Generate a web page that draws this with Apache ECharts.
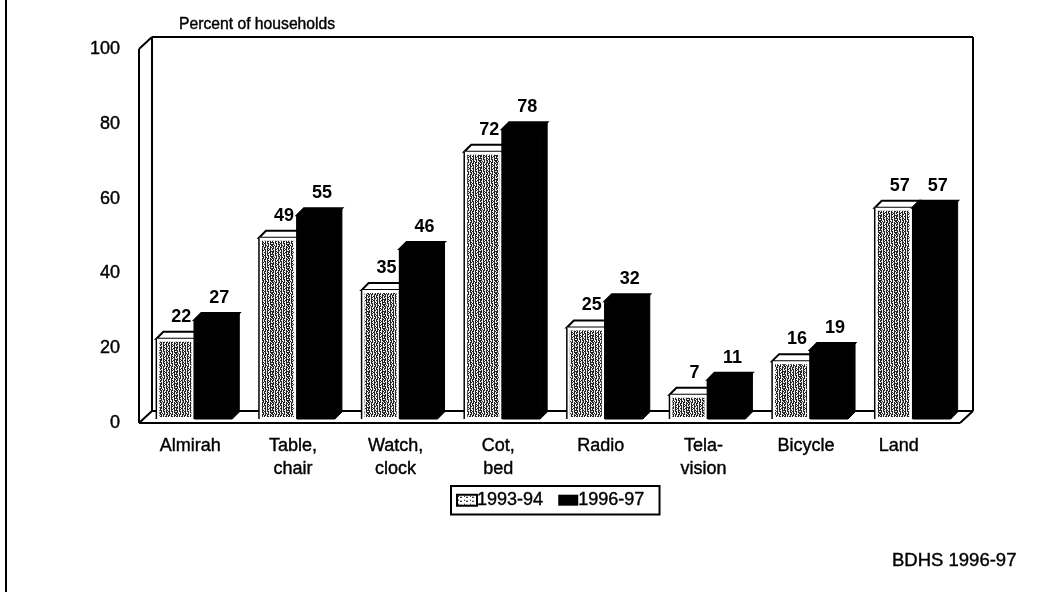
<!DOCTYPE html>
<html>
<head>
<meta charset="utf-8">
<title>Household possessions</title>
<style>
  html, body { margin: 0; padding: 0; background: #fff; }
  #chart { width: 1047px; height: 592px; }
</style>
<script src="https://cdn.jsdelivr.net/npm/echarts@6/dist/echarts.min.js"></script>
</head>
<body>
<div id="chart"></div>
<script>
const categories = ['Almirah', 'Table,\nchair', 'Watch,\nclock', 'Cot,\nbed', 'Radio', 'Tela-\nvision', 'Bicycle', 'Land']
const values9394 = [22, 49, 35, 72, 25, 7, 16, 57]
const values9697 = [27, 55, 46, 78, 32, 11, 19, 57]
const seriesNames = ['1993-94', '1996-97']
const yTicks = {min: 0, max: 100, interval: 20}

const font = '"Liberation Sans", Arial, sans-serif'
// the scan makes all the text a bit heavier
const heavy = {textBorderColor: '#000', textBorderWidth: 0.4}

// scanned halftone look, one small tile repeated
const makeTile = function (rows, darkColor, lightColor) {
  const tile = document.createElement('canvas')
  tile.width = rows[0].length
  tile.height = rows.length
  const ctx = tile.getContext('2d')
  rows.forEach((row, y) => {
    row.split('').forEach((c, x) => {
      ctx.fillStyle = c == '#' ? darkColor : lightColor
      ctx.fillRect(x, y, 1, 1)
    })
  })
  return {image: tile, repeat: 'repeat'}
}
const hatch = makeTile([
  '##.#.##.##.#.##.',
  '#..##.#..#.##.#.',
  '##.#..##.#.#..##',
  '.#.##.#.##.##.#.',
  '##..#.##.#..#.##',
  '#.#.#..#.##.#..#',
  '##.##.##.#.##.#.',
  '.#.#..#.##.#..##',
  '##.#.##.#..##.#.',
  '#..##.#.##.#.##.',
  '.#.#..##.#.##.#.',
  '##.##.#..#.#..##',
], '#222', '#eee')
const legendHatch = makeTile([
  '......',
  '.#....',
  '...##.',
  '......',
], '#000', '#fff')

// the little 3d box the plot sits in
const renderFrame = function (params) {
  const {x, y, width, height} = params.coordSys
  const dx = 13, dy = 12
  const lines = [
    [x, y, x, y + height],
    [x + dx, y - dy, x + dx, y + height - dy],
    [x, y, x + dx, y - dy],
    [x + dx, y - dy, x + width + dx, y - dy],
    [x + width + dx, y - dy, x + width + dx, y + height - dy],
    [x, y + height, x + width, y + height],
    [x + dx, y + height - dy, x + width + dx, y + height - dy],
    [x, y + height, x + dx, y + height - dy],
    [x + width, y + height, x + width + dx, y + height - dy],
  ]
  return {
    type: 'group',
    children: lines.map(([x1, y1, x2, y2]) => ({
      type: 'line',
      shape: {x1, y1, x2, y2},
      style: {stroke: '#000', lineWidth: 2},
    })),
  }
}

const makeBarRenderer = function (side, fill) {
  return function (params, api) {
    const idx = api.value(0)
    const val = api.value(1)
    const band = api.size([1, 0])[0]
    const w = band * 0.37
    const depth = 7
    const top = api.coord([idx, val])
    const base = api.coord([idx, 0])
    const x0 = top[0] + 4 + side * w
    const x1 = x0 + w
    const y0 = top[1] - 2
    const y1 = base[1] - 4
    const dark = fill == '#000'
    return {
      type: 'group',
      children: [
        {
          type: 'polygon',
          shape: {points: [[x0, y0], [x0 + depth, y0 - depth], [x1 + depth, y0 - depth], [x1, y0]]},
          style: {fill: dark ? '#000' : '#fff', stroke: '#000', lineWidth: 2},
        },
        {
          type: 'polygon',
          shape: {points: [[x1, y0], [x1 + depth, y0 - depth], [x1 + depth, y1 - depth], [x1, y1]]},
          style: {fill: '#000', stroke: '#000', lineWidth: 1},
        },
        {
          type: 'rect',
          shape: {x: x0, y: y0, width: w, height: y1 - y0},
          style: {fill: dark ? '#000' : '#fff', stroke: dark ? '#000' : 'none'},
        },
        {
          type: 'rect',
          shape: dark ? {x: x0, y: y0, width: 0, height: 0} : {x: x0 + 3, y: y0 + 3, width: w - 6, height: y1 - y0 - 5},
          style: {fill: fill},
        },
        {
          type: 'line',
          shape: {x1: x0, y1: y0, x2: x0, y2: y1},
          style: {stroke: '#000', lineWidth: 1.5},
        },
        {
          type: 'text',
          style: {
            text: String(val),
            x: x0 + w / 2 + 6,
            y: y0 - depth - 15,
            align: 'center',
            verticalAlign: 'middle',
            font: 'bold 18px ' + font,
            fill: '#000',
          },
        },
      ],
    }
  }
}

const toData = function (vals) {
  return vals.map((v, i) => [i, v])
}

const chart = echarts.init(document.getElementById('chart'), null, {renderer: 'canvas'})

chart.setOption({
  animation: false,
  backgroundColor: '#fff',
  title: [
    {
      text: 'Percent of households',
      left: 174,
      top: 12,
      textStyle: {fontFamily: font, fontSize: 15.7, fontWeight: 'normal', color: '#000', ...heavy},
    },
    {
      text: 'BDHS 1996-97',
      left: 887,
      top: 546,
      textStyle: {fontFamily: font, fontSize: 18.5, fontWeight: 'normal', color: '#000', ...heavy},
    },
  ],
  grid: {left: 139, right: 87, top: 49, bottom: 169},
  xAxis: {
    type: 'category',
    data: categories.map((name) => (
      name == 'Land' ? {value: name, textStyle: {padding: [0, 20, 0, 0]}} : name
    )),
    axisLine: {show: false},
    axisTick: {show: false},
    axisLabel: {
      interval: 0,
      margin: 12,
      fontFamily: font,
      fontSize: 18,
      lineHeight: 23,
      color: '#000',
      ...heavy,
    },
  },
  yAxis: {
    type: 'value',
    min: yTicks.min,
    max: yTicks.max,
    interval: yTicks.interval,
    axisLine: {show: false},
    axisTick: {show: false},
    splitLine: {show: false},
    axisLabel: {margin: 19, padding: [5, 0, 0, 0], fontFamily: font, fontSize: 18, color: '#000', ...heavy},
  },
  legend: {
    left: 451,
    top: 486,
    padding: [5, 15, 5, 5],
    itemGap: 15,
    itemWidth: 20,
    itemHeight: 11,
    selectedMode: false,
    borderColor: '#000',
    borderWidth: 2,
    textStyle: {fontFamily: font, fontSize: 18, color: '#000', padding: [0, 0, 0, -5], ...heavy},
    data: [
      {name: seriesNames[0], icon: 'rect', itemStyle: {color: legendHatch, borderColor: '#000', borderWidth: 2}},
      {name: seriesNames[1], icon: 'rect', itemStyle: {color: '#000'}},
    ],
  },
  graphic: [
    {
      type: 'rect',
      shape: {x: 5, y: 0, width: 2, height: 592},
      style: {fill: '#000'},
    },
  ],
  series: [
    {
      type: 'custom',
      name: 'frame',
      z: 1,
      silent: true,
      clip: false,
      renderItem: renderFrame,
      data: [[0, 0]],
    },
    {
      type: 'custom',
      name: seriesNames[0],
      z: 2,
      clip: false,
      itemStyle: {color: '#fff'},
      renderItem: makeBarRenderer(-1, hatch),
      data: toData(values9394),
    },
    {
      type: 'custom',
      name: seriesNames[1],
      z: 3,
      clip: false,
      itemStyle: {color: '#000'},
      renderItem: makeBarRenderer(0, '#000'),
      data: toData(values9697),
    },
  ],
})
</script>
</body>
</html>
